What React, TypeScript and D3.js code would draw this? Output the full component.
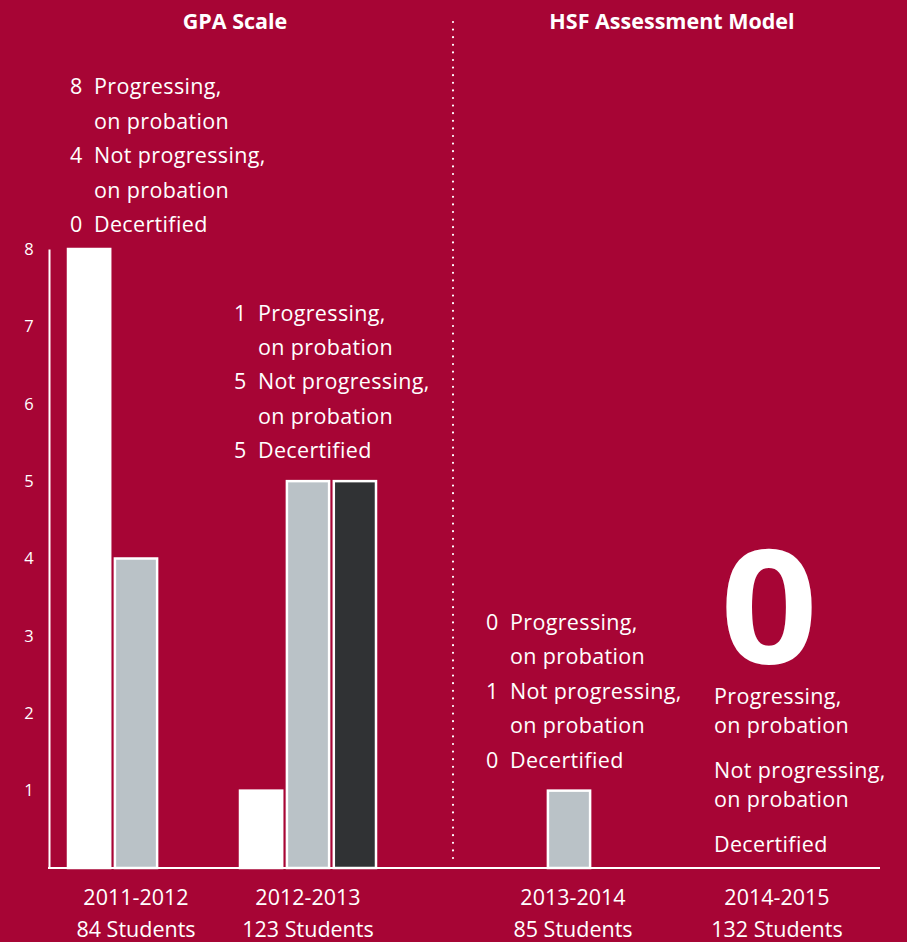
import {useEffect, useRef} from "react";
import * as d3 from "d3";

const categories = ["2011-2012", "2012-2013", "2013-2014", "2014-2015"];
const students = [84, 123, 85, 132];
const progressing = [8, 1, 0, 0];
const notProgressing = [4, 5, 1, 0];
const decertified = [0, 5, 0, 0];
const seriesNames = ["Progressing", "Not progressing", "Decertified"];
const seriesLabels = [["Progressing,", "on probation"], ["Not progressing,", "on probation"], ["Decertified"]];
const panels = ["GPA Scale", "HSF Assessment Model"];
const yTicks = [1, 2, 3, 4, 5, 6, 7, 8];

const BG = "#A70535";
const COLORS = ["#FFFFFF", "#BAC2C7", "#303234"];
const FONT = "'Open Sans', sans-serif";

export default function App() {
    const ref = useRef(null);

    useEffect(() => {
        const el = ref.current;
        if(!el) return;
        d3.select(el).selectAll("*").remove();

        const width = 907;
        const height = 942;
        const series = [progressing, notProgressing, decertified];

        const svg = d3
            .select(el)
            .append("svg")
            .attr("width", width)
            .attr("height", height)
            .style("position", "absolute")
            .style("left", 0)
            .style("top", 0)
            .style("font-family", FONT);

        svg.append("rect").attr("width", width).attr("height", height).attr("fill", BG);

        const y = d3.scaleLinear().domain([0, 8]).range([868, 249]);

        // two panels, each its own point scale
        const xLeft = d3.scalePoint().domain(categories.slice(0, 2)).range([50, 394]).padding(0.5);
        const xRight = d3.scalePoint().domain(categories.slice(2)).range([467, 875]).padding(0.5);
        const xc = (c) => (xLeft.domain().includes(c) ? xLeft(c) : xRight(c));
        const inner = d3.scaleBand().domain(seriesNames).range([-68, 68]).paddingInner(0.1);

        // panel titles
        svg
            .selectAll("text.title")
            .data(panels)
            .join("text")
            .attr("class", "title")
            .attr("x", (d, i) => (i === 0 ? 235 : 672))
            .attr("y", 29)
            .attr("text-anchor", "middle")
            .attr("fill", "#fff")
            .attr("font-weight", 700)
            .attr("font-size", 21.5)
            .text((d) => d);

        // dotted divider
        svg
            .append("line")
            .attr("x1", 453)
            .attr("x2", 453)
            .attr("y1", 22)
            .attr("y2", 860)
            .attr("stroke", "#fff")
            .attr("stroke-width", 2.2)
            .attr("stroke-linecap", "round")
            .attr("stroke-dasharray", "0,7.6");

        // y axis
        svg
            .append("g")
            .attr("transform", "translate(49,0)")
            .call(d3.axisLeft(y).tickValues(yTicks).tickSize(0).tickPadding(15))
            .call((g) => g.select(".domain").attr("stroke", "#fff").attr("stroke-width", 2))
            .call((g) =>
                g
                    .selectAll("text")
                    .attr("fill", "#fff")
                    .attr("font-size", 16.5)
                    .attr("font-family", FONT)
                    .attr("text-anchor", "middle")
                    .attr("x", -20)
            );

        // baseline
        svg
            .append("line")
            .attr("x1", 48)
            .attr("x2", 880)
            .attr("y1", y(0))
            .attr("y2", y(0))
            .attr("stroke", "#fff")
            .attr("stroke-width", 2);

        // bars
        categories.forEach((c, ci) => {
            series.forEach((s, si) => {
                const v = s[ci];
                if(!v) return;
                svg
                    .append("rect")
                    .attr("x", xc(c) + inner(seriesNames[si]))
                    .attr("y", y(v))
                    .attr("width", inner.bandwidth())
                    .attr("height", y(0) - y(v))
                    .attr("fill", COLORS[si])
                    .attr("stroke", "#fff")
                    .attr("stroke-width", 2.5);
            });
        });

        // category labels (right panel sits a touch right of its bars)
        categories.forEach((c, ci) => {
            const cx = xc(c) + (ci >= 2 ? 4 : 0);
            const t = svg
                .append("text")
                .attr("x", cx)
                .attr("text-anchor", "middle")
                .attr("fill", "#fff")
                .attr("font-size", 21.5);
            t.append("tspan").attr("x", cx).attr("y", 905).text(c);
            t.append("tspan").attr("x", cx).attr("y", 937).text(`${students[ci]} Students`);
        });

        // annotations above each group
        categories.forEach((c, ci) => {
            const vals = series.map((s) => s[ci]);
            const top = d3.max(vals);
            const x0 = xc(c) - 68;
            if(top > 0) {
                const lineH = 34.4;
                const last = y(top) - (ci === 0 ? 17 : 23);
                const lines = [];
                vals.forEach((v, si) => {
                    seriesLabels[si].forEach((l, li) => lines.push({num: li === 0 ? String(v) : "", text: l}));
                });
                const start = last - (lines.length - 1) * lineH;
                const dx = ci === 0 ? 2 : ci === 1 ? -6 : -15;
                lines.forEach((l, i) => {
                    const g = svg.append("g").attr("fill", "#fff").attr("font-size", 21.5).attr("letter-spacing", 0.35);
                    if(l.num) g.append("text").attr("x", x0 + dx).attr("y", start + i * lineH).text(l.num);
                    g.append("text").attr("x", x0 + dx + 24).attr("y", start + i * lineH).text(l.text);
                });
            } else {
                // total is zero: big figure
                const bx = xc(c) - 4;
                svg
                    .append("text")
                    .attr("x", bx)
                    .attr("y", 663)
                    .attr("text-anchor", "middle")
                    .attr("fill", "#fff")
                    .attr("font-weight", 700)
                    .attr("font-size", 158)
                    .attr("transform", `translate(${bx},0) scale(1.08,1) translate(${-bx},0)`)
                    .text(d3.sum(vals));
                const offs = [[0, 29], [74, 103], [148]];
                seriesLabels.forEach((ls, si) => {
                    ls.forEach((l, li) => {
                        svg
                            .append("text")
                            .attr("x", x0 + 9)
                            .attr("y", 704 + offs[si][li])
                            .attr("fill", "#fff")
                            .attr("font-size", 21.5)
                            .attr("letter-spacing", 0.35)
                            .text(l);
                    });
                });
            }
        });
    }, []);

    return <div ref={ref} />;
}
